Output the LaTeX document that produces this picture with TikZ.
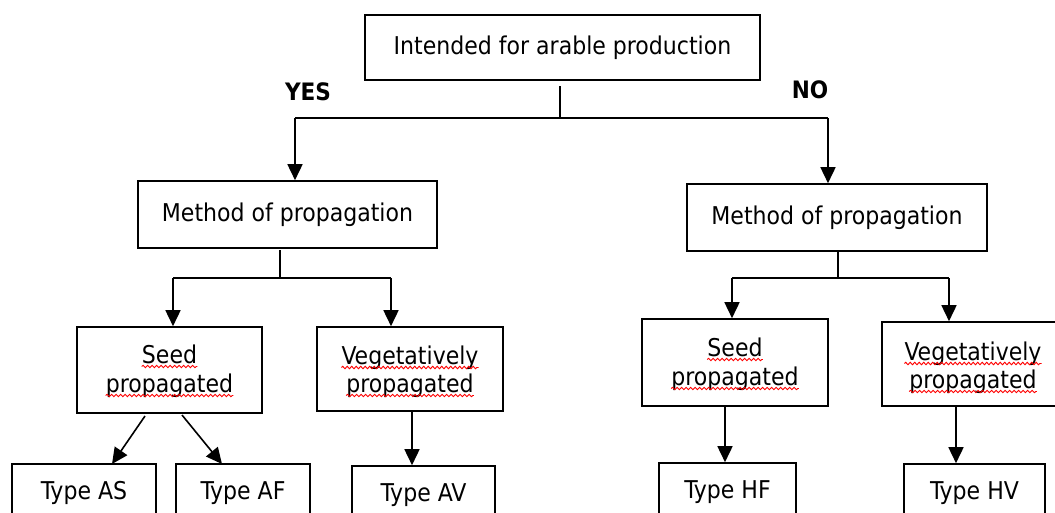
\documentclass[tikz,border=0pt]{standalone}
\usepackage{fontspec}
\setmainfont{DejaVu Sans Condensed}
\usetikzlibrary{arrows.meta,decorations.pathmorphing}
\tikzset{
  box/.style={draw, line width=1.6pt, inner sep=0pt, align=center, font=\fontsize{24.5}{29}\selectfont, text=black},
  txt/.style={inner sep=0pt, anchor=base, font=\fontsize{24.5}{29}\selectfont, text=black},
  lbl/.style={inner sep=0pt, font=\fontsize{24}{28}\selectfont\bfseries},
  conn/.style={line width=1.6pt},
  arr/.style={line width=1.6pt, -{Triangle[length=16pt,width=15pt]}},
  squig/.style={draw=red, line width=0.9pt, decorate, decoration={snake, amplitude=1.2pt, segment length=4.5pt}}
}
\newcommand\wavy[1]{\draw[squig] ([yshift=-3.5pt]#1.base west) -- ([yshift=-3.5pt]#1.base east);}
\begin{document}
\begin{tikzpicture}[x=1pt,y=-1pt]
\useasboundingbox (0,0) rectangle (1055,512);
\clip (0,0) rectangle (1055,512);
% boxes
\node[box, minimum width=395pt, minimum height=65pt] (top) at (562.5,47.5) {\raisebox{4pt}{Intended for arable production}};
\node[box, minimum width=299pt, minimum height=67pt] (mL) at (287.5,214.5) {\raisebox{4pt}{Method of propagation}};
\node[box, minimum width=300pt, minimum height=67pt] (mR) at (837,217.5) {\raisebox{4pt}{Method of propagation}};
\node[box, minimum width=185pt, minimum height=86pt] (sL) at (169.5,370) {};
\node[box, minimum width=186pt, minimum height=84pt] (vL) at (410,369) {};
\node[box, minimum width=186pt, minimum height=87pt] (sR) at (735,362.5) {};
\node[box, minimum width=182pt, minimum height=84pt] (vR) at (973,364) {};
\node[box, minimum width=144pt, minimum height=58pt] (AS) at (84,493) {Type AS};
\node[box, minimum width=134pt, minimum height=58pt] (AF) at (243,493) {Type AF};
\node[box, minimum width=143pt, minimum height=58pt] (AV) at (423.5,495) {Type AV};
\node[box, minimum width=137pt, minimum height=58pt] (HF) at (727.5,492) {Type HF};
\node[box, minimum width=141pt, minimum height=58pt] (HV) at (974.5,493) {Type HV};
% two-line texts
\node[txt] (sL1) at (169.5,363) {Seed};
\node[txt] (sL2) at (169.5,392) {propagated};
\node[txt] (vL1) at (410,364) {Vegetatively};
\node[txt] (vL2) at (410,392) {propagated};
\node[txt] (sR1) at (735,356) {Seed};
\node[txt] (sR2) at (735,385) {propagated};
\node[txt] (vR1) at (973,360) {Vegetatively};
\node[txt] (vR2) at (973,388) {propagated};
\wavy{sL1}\wavy{sL2}\wavy{vL1}\wavy{vL2}\wavy{sR1}\wavy{sR2}\wavy{vR1}\wavy{vR2}
% labels
\node[lbl] (yes) at (308,92) {YES};
\node[lbl] (no) at (810,90) {NO};
% junctions
\coordinate (j0) at (560,118);
\coordinate (j0s) at (560,86);
\coordinate (jYes) at (295,118);
\coordinate (jNo) at (828,118);
\draw[conn] (j0s) -- (j0);
\draw[conn] (jYes) -- (jNo);
\draw[arr] (jYes) -- (jYes |- mL.north);
\draw[arr] (jNo) -- (jNo |- mR.north);
% left method
\coordinate (l0s) at (280,250);
\coordinate (l0) at (280,278);
\coordinate (lA) at (173,278);
\coordinate (lB) at (391,278);
\draw[conn] (l0s) -- (l0);
\draw[conn] (lA) -- (lB);
\draw[arr] (lA) -- (lA |- sL.north);
\draw[arr] (lB) -- (lB |- vL.north);
% right method
\coordinate (r0s) at (838,251);
\coordinate (r0) at (838,278);
\coordinate (rA) at (732,278);
\coordinate (rB) at (949,278);
\draw[conn] (r0s) -- (r0);
\draw[conn] (rA) -- (rB);
\draw[arr] (rA) -- (rA |- sR.north);
\draw[arr] (rB) -- (rB |- vR.north);
% leaves
\coordinate (d1) at (145,416);
\coordinate (d1e) at (112,464);
\coordinate (d2) at (182,415);
\coordinate (d2e) at (222,464);
\draw[arr] (d1) -- (d1e);
\draw[arr] (d2) -- (d2e);
\coordinate (v1) at (412,412);
\draw[arr] (v1) -- (v1 |- AV.north);
\coordinate (s2) at (725,407);
\draw[arr] (s2) -- (s2 |- HF.north);
\coordinate (v2) at (956,407);
\draw[arr] (v2) -- (v2 |- HV.north);
\end{tikzpicture}
\end{document}
